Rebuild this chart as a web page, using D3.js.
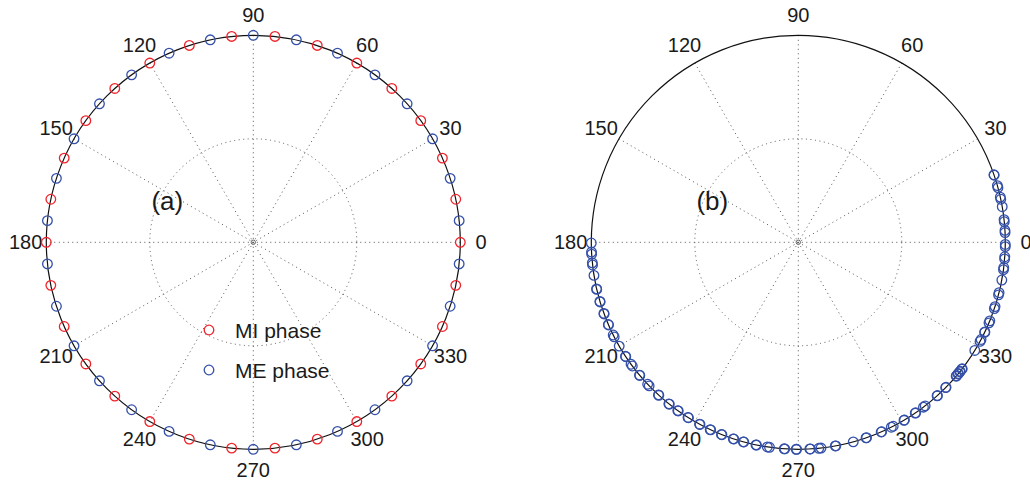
<!DOCTYPE html>
<html>
<head>
<meta charset="utf-8">
<script src="https://cdn.jsdelivr.net/npm/d3@7"></script>
<style>
  body { margin: 0; background: #fff; }
  text { font-family: "Liberation Sans", Arial, Helvetica, sans-serif; fill: #1a1a1a; }
</style>
</head>
<body>
<div id="chart"></div>
<script>
// angle tick labels (degrees)
const tickAngles = [0, 30, 60, 90, 120, 150, 180, 210, 240, 270, 300, 330];

// panel (a): phase angles (degrees), all on the unit circle
const miPhase = [0, 12, 24, 36, 48, 60, 72, 84, 96, 108, 120, 132, 144, 156, 168,
                 180, 192, 204, 216, 228, 240, 252, 264, 276, 288, 300, 312, 324, 336, 348];
const mePhase = [6, 18, 30, 42, 54, 66, 78, 90, 102, 114, 126, 138, 150, 162, 174,
                 186, 198, 210, 222, 234, 246, 258, 270, 282, 294, 306, 318, 330, 342, 354];

// panel (b): phase angles (degrees), many points overlap
const mePhaseB = [
  18.9, 19.05, 15.3, 15.9, 12.0, 12.6, 9.9, 5.7, 6.3, 2.7, 3.3,
  358.8, 359.4, 355.4, 356.0, 352.4, 353.0, 349.5, 345.3, 345.9, 341.3, 341.9,
  337.1, 337.7, 334.2, 334.35, 331.4, 332.0, 328.5,
  322.2, 322.35, 321.3, 321.45, 320.5, 320.65, 319.7, 319.85,
  315.4, 315.55, 312.1, 312.25, 307.2, 307.8, 304.4, 304.55, 300.7, 300.85,
  296.7, 297.3, 293.6, 293.75, 289.1, 289.25, 285.4, 280.3, 280.45,
  275.7, 276.3, 273.2, 273.35, 269.4, 269.55, 266.1, 266.25, 261.4, 262.0,
  258.2, 258.35, 254.6, 254.75, 251.7, 251.85, 248.2, 248.35, 244.8, 244.95,
  241.5, 241.65, 237.8, 237.95, 234.4, 234.55, 231.3, 231.45, 227.5, 227.65,
  223.3, 223.9, 219.9, 220.05, 216.1, 216.7, 213.4, 213.55, 210.1,
  206.6, 207.2, 203.4, 203.55, 200.1, 200.25, 196.6, 196.75, 193.0, 193.15,
  189.2, 185.7, 186.3, 182.7, 183.3, 180.2
];

const width = 1030, height = 483;
const R = 207;
const red = "#f0222a", blue = "#3450a8";

const svg = d3.select("#chart").append("svg")
  .attr("width", width)
  .attr("height", height);

// radius scale: unit circle -> pixels
const r = d3.scaleLinear().domain([0, 1]).range([0, R]);

function drawPolar(cx, cy, label, series) {
  const g = svg.append("g").attr("transform", `translate(${cx}, ${cy})`);
  const px = (deg, v) => r(v) * Math.cos(deg * Math.PI / 180);
  const py = (deg, v) => -r(v) * Math.sin(deg * Math.PI / 180);

  // dotted grid: spokes every 30 deg, half circle, tiny centre circle
  g.selectAll("line.spoke")
    .data(tickAngles.filter(a => a < 180))
    .join("line")
    .attr("class", "spoke")
    .attr("x1", a => px(a, 1)).attr("y1", a => py(a, 1))
    .attr("x2", a => px(a + 180, 1)).attr("y2", a => py(a + 180, 1))
    .attr("stroke", "#555")
    .attr("stroke-width", 1)
    .attr("stroke-dasharray", "1 3.5");

  g.append("circle")
    .attr("r", r(0.5))
    .attr("fill", "none")
    .attr("stroke", "#555")
    .attr("stroke-width", 1)
    .attr("stroke-dasharray", "1 3.5");

  g.append("circle")
    .attr("r", 2.2)
    .attr("fill", "none")
    .attr("stroke", "#444")
    .attr("stroke-width", 0.8);

  // outer circle
  g.append("circle")
    .attr("r", r(1))
    .attr("fill", "none")
    .attr("stroke", "#111")
    .attr("stroke-width", 1.2);

  // angle labels at 1.1 * rmax
  g.selectAll("text.tick")
    .data(tickAngles)
    .join("text")
    .attr("class", "tick")
    .attr("x", a => px(a, 1.1))
    .attr("y", a => py(a, 1.1))
    .attr("text-anchor", "middle")
    .attr("dominant-baseline", "central")
    .style("font-size", "20px")
    .text(a => a);

  // panel label
  g.append("text")
    .attr("x", -86)
    .attr("y", -32)
    .attr("text-anchor", "middle")
    .style("font-size", "26px")
    .text(label);

  // markers
  series.forEach(s => {
    g.append("g")
      .selectAll("circle")
      .data(s.values)
      .join("circle")
      .attr("cx", a => px(a, 1))
      .attr("cy", a => py(a, 1))
      .attr("r", 4.8)
      .attr("fill", "none")
      .attr("stroke", s.color)
      .attr("stroke-width", 1.3);
  });
  return g;
}

drawPolar(253.3, 242.3, "(a)", [
  { name: "MI phase", values: miPhase, color: red },
  { name: "ME phase", values: mePhase, color: blue }
]);
drawPolar(798.3, 242.3, "(b)", [
  { name: "ME phase", values: mePhaseB, color: blue }
]);

// legend of panel (a), no box
const legendItems = [{ name: "MI phase", color: red }, { name: "ME phase", color: blue }];
const legend = svg.append("g").attr("transform", "translate(209, 330)");
legendItems.forEach((d, i) => {
  legend.append("circle")
    .attr("cx", 0).attr("cy", i * 40)
    .attr("r", 4.8)
    .attr("fill", "none")
    .attr("stroke", d.color)
    .attr("stroke-width", 1.3);
  legend.append("text")
    .attr("x", 26).attr("y", i * 40 + 8)
    .style("font-size", "21px")
    .text(d.name);
});
</script>
</body>
</html>
